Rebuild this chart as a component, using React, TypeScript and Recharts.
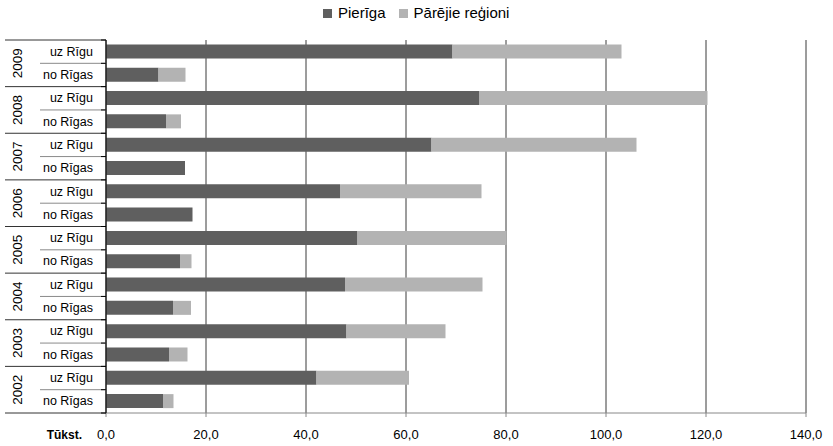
import React from "react";
import { BarChart, Bar, XAxis, YAxis, CartesianGrid } from "recharts";

const years = ["2009", "2008", "2007", "2006", "2005", "2004", "2003", "2002"];
const flows = ["uz Rīgu", "no Rīgas"];

// thousands, top row first
const pieriga = [69.3, 10.5, 74.7, 12.0, 65.1, 15.8, 46.8, 17.3, 50.3, 14.8, 47.8, 13.4, 48.1, 12.6, 42.1, 11.4];
const parejie = [33.8, 5.4, 45.6, 3.0, 41.0, 0, 28.3, 0, 29.8, 2.3, 27.5, 3.6, 19.8, 3.7, 18.5, 2.1];

const xTicks = [0, 20, 40, 60, 80, 100, 120, 140];
const seriesNames = ["Pierīga", "Pārējie reģioni"];

const W = 833;
const H = 446;
const TOP = 40;
const X_AXIS_H = 33;
const AXIS_X = 106;
const DARK = "#5f5f5f";
const LIGHT = "#b3b3b3";
const FONT = "'Liberation Sans', Arial, sans-serif";

const data = pieriga.map((v, i) => ({
  key: `${years[Math.floor(i / 2)]}-${i % 2}`,
  year: years[Math.floor(i / 2)],
  flow: flows[i % 2],
  pieriga: v,
  parejie: parejie[i],
}));

const rowH = (H - TOP - X_AXIS_H) / data.length;

function fmt(v: number): string {
  return v.toFixed(1).replace(".", ",");
}

function CategoryTick(props: any) {
  const { y, index } = props;
  const row = data[index];
  if (!row) return null;
  const bottom = y + rowH / 2;
  const top = y - rowH / 2;
  const endOfYear = index % 2 === 1;
  return (
    <g>
      {index === 0 && (
        <line x1={5} x2={AXIS_X} y1={top} y2={top} stroke="#333" strokeWidth={1} />
      )}
      <line
        x1={endOfYear ? 5 : 40}
        x2={AXIS_X}
        y1={bottom}
        y2={bottom}
        stroke={endOfYear ? "#333" : "#8a8a8a"}
        strokeWidth={1}
      />
      <line x1={AXIS_X - 5} x2={AXIS_X} y1={bottom} y2={bottom} stroke="#000" />
      {index === 0 && <line x1={AXIS_X - 5} x2={AXIS_X} y1={top} y2={top} stroke="#000" />}
      <text
        x={93}
        y={y}
        dy={4}
        textAnchor="end"
        fontSize={12.5}
        fontFamily={FONT}
        fill="#000"
      >
        {row.flow}
      </text>
      {!endOfYear && (
        <text
          x={0}
          y={0}
          transform={`translate(22, ${bottom}) rotate(-90)`}
          textAnchor="middle"
          fontSize={13.5}
          fontFamily={FONT}
          fill="#000"
        >
          {row.year}
        </text>
      )}
    </g>
  );
}

function UnitLabel(props: any) {
  const { viewBox } = props;
  return (
    <text
      x={viewBox.x - 24}
      y={439}
      textAnchor="end"
      fontSize={12}
      fontWeight="bold"
      fontFamily={FONT}
      fill="#000"
    >
      Tūkst.
    </text>
  );
}

function LegendBox() {
  const items = [
    { name: seriesNames[0], color: DARK },
    { name: seriesNames[1], color: LIGHT },
  ];
  return (
    <div
      style={{
        position: "absolute",
        top: 4,
        left: 323,
        display: "flex",
        alignItems: "center",
        fontFamily: FONT,
        fontSize: 15,
        color: "#000",
        lineHeight: "18px",
      }}
    >
      {items.map((it, i) => (
        <div key={it.name} style={{ display: "flex", alignItems: "center", marginRight: i === 0 ? 13 : 0 }}>
          <span
            style={{
              display: "inline-block",
              width: 9,
              height: 9,
              background: it.color,
              marginRight: 6,
            }}
          />
          <span>{it.name}</span>
        </div>
      ))}
    </div>
  );
}

export default function App() {
  return (
    <div style={{ position: "absolute", left: 0, top: 0, width: W, height: H, background: "#fff" }}>
      <LegendBox />
      <BarChart
        width={W}
        height={H}
        data={data}
        layout="vertical"
        margin={{ top: TOP, right: 27, bottom: 0, left: 0 }}
        barCategoryGap="19%"
      >
        <CartesianGrid horizontal={false} stroke="#3a3a3a" strokeWidth={1} />
        <XAxis
          type="number"
          domain={[0, 140]}
          ticks={xTicks}
          tickFormatter={fmt}
          height={X_AXIS_H}
          axisLine={{ stroke: "#888" }}
          tickLine={{ stroke: "#888" }}
          tickSize={4}
          tickMargin={13}
          tick={{ fontSize: 13, fill: "#000", fontFamily: FONT }}
          label={<UnitLabel />}
        />
        <XAxis
          xAxisId="top"
          type="number"
          orientation="top"
          domain={[0, 140]}
          ticks={xTicks}
          height={0}
          axisLine={false}
          tickLine={{ stroke: "#3a3a3a" }}
          tickSize={3}
          tickFormatter={() => ""}
        />
        <YAxis
          type="category"
          dataKey="key"
          width={AXIS_X}
          axisLine={{ stroke: "#000" }}
          tickLine={false}
          tick={<CategoryTick />}
          interval={0}
        />
        <Bar dataKey="pieriga" name={seriesNames[0]} stackId="a" fill={DARK} isAnimationActive={false} />
        <Bar dataKey="parejie" name={seriesNames[1]} stackId="a" fill={LIGHT} isAnimationActive={false} />
      </BarChart>
    </div>
  );
}
